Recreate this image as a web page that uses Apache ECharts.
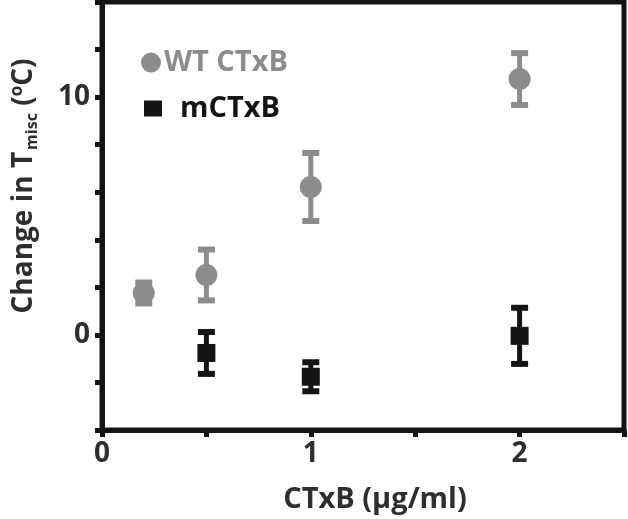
<!DOCTYPE html>
<html>
<head>
<meta charset="utf-8">
<script src="https://cdn.jsdelivr.net/npm/echarts@6/dist/echarts.min.js"></script>
<style>
html,body{margin:0;padding:0;background:#fff;}
#main{width:628px;height:519px;}
</style>
</head>
<body>
<div id="main"></div>
<script>
// Data
var wtX = [0.2, 0.5, 1, 2];
var wtY = [1.76, 2.52, 6.22, 10.76];
var wtErr = [0.44, 1.07, 1.43, 1.09];
var mX = [0.5, 1, 2];
var mY = [-0.76, -1.76, -0.04];
var mErr = [0.88, 0.61, 1.18];
var xLabelsShown = [0, 1, 2];
var yLabelsShown = [0, 10];

var FONT = '"Open Sans"';
var TXT = '#2e2e2e';
var GRAY = '#8c8c8c';
var BLACK = '#141414';

function pts(xs, ys) { return xs.map(function (x, i) { return [x, ys[i]]; }); }
function errData(xs, ys, es) { return xs.map(function (x, i) { return [x, ys[i] - es[i], ys[i] + es[i]]; }); }

function errRender(color) {
  return function (params, api) {
    var x = api.value(0);
    var lo = api.coord([x, api.value(1)]);
    var hi = api.coord([x, api.value(2)]);
    var hw = 8.5;
    var st = { stroke: color, lineWidth: 5 };
    var cs = { stroke: color, lineWidth: 6 };
    return {
      type: 'group',
      children: [
        { type: 'line', shape: { x1: lo[0], y1: lo[1], x2: hi[0], y2: hi[1] }, style: st },
        { type: 'line', shape: { x1: lo[0] - hw, y1: lo[1], x2: lo[0] + hw, y2: lo[1] }, style: cs },
        { type: 'line', shape: { x1: hi[0] - hw, y1: hi[1], x2: hi[0] + hw, y2: hi[1] }, style: cs }
      ]
    };
  };
}

var chart = echarts.init(document.getElementById('main'));
chart.setOption({
  animation: false,
  backgroundColor: '#fff',
  grid: { left: 102, right: 4, top: 2, bottom: 87, show: true, borderColor: BLACK, borderWidth: 5, backgroundColor: 'transparent' },
  legend: [
    {
      data: [{ name: 'WT CTxB', icon: 'circle' }],
      left: 136, top: 43, itemWidth: 20, itemHeight: 20, itemGap: 0,
      textStyle: { color: GRAY, fontFamily: FONT, fontWeight: 'bold', fontSize: 29, padding: [0, 0, 0, -2] },
      selectedMode: false
    },
    {
      data: [{ name: 'mCTxB', icon: 'rect' }],
      left: 139, top: 89, itemWidth: 18, itemHeight: 16, itemGap: 0,
      textStyle: { color: BLACK, fontFamily: FONT, fontWeight: 'bold', fontSize: 29, padding: [0, 0, 0, 13] },
      selectedMode: false
    }
  ],
  xAxis: {
    type: 'value', min: 0, max: 2.5, interval: 0.5,
    splitLine: { show: false },
    axisLine: { onZero: false, lineStyle: { color: BLACK, width: 5 } },
    axisTick: { length: 7, lineStyle: { color: BLACK, width: 5 } },
    axisLabel: {
      margin: 10, color: TXT, fontFamily: FONT, fontWeight: 'bold', fontSize: 28,
      formatter: function (v) { return xLabelsShown.indexOf(v) >= 0 ? String(v) : ''; }
    },
    name: 'CTxB (\u03bcg/ml)', nameLocation: 'middle', nameGap: 55,
    nameTextStyle: { color: TXT, fontFamily: FONT, fontWeight: 'bold', fontSize: 29, padding: [0, 0, 0, 24] }
  },
  yAxis: {
    type: 'value', min: -4, max: 14, interval: 2,
    splitLine: { show: false },
    axisLine: { onZero: false, lineStyle: { color: BLACK, width: 5 } },
    axisTick: { length: 7, lineStyle: { color: BLACK, width: 5 } },
    axisLabel: {
      margin: 12, color: TXT, fontFamily: FONT, fontWeight: 'bold', fontSize: 28,
      formatter: function (v) { return yLabelsShown.indexOf(v) >= 0 ? String(v) : ''; }
    },
    name: 'Change in T{sub|misc} ({sup|o}C)', nameLocation: 'middle', nameRotate: 90, nameGap: 62,
    nameTextStyle: {
      color: TXT, fontFamily: FONT, fontWeight: 'bold', fontSize: 28, padding: [0, 0, 0, 60],
      rich: {
        sub: { color: TXT, fontFamily: FONT, fontWeight: 'bold', fontSize: 16, padding: [16, 0, 0, 2] },
        sup: { color: TXT, fontFamily: FONT, fontWeight: 'bold', fontSize: 17, padding: [0, 0, 14, 0] }
      }
    }
  },
  series: [
    {
      name: 'WT CTxB', type: 'scatter', symbol: 'circle', symbolSize: 22,
      itemStyle: { color: GRAY, opacity: 1 }, data: pts(wtX, wtY), z: 3
    },
    {
      name: 'wtErr', type: 'custom', renderItem: errRender(GRAY),
      data: errData(wtX, wtY, wtErr), z: 2, encode: { x: 0, y: [1, 2] }
    },
    {
      name: 'mCTxB', type: 'scatter', symbol: 'rect', symbolSize: 18,
      itemStyle: { color: BLACK, opacity: 1 }, data: pts(mX, mY), z: 3
    },
    {
      name: 'mErr', type: 'custom', renderItem: errRender(BLACK),
      data: errData(mX, mY, mErr), z: 2, encode: { x: 0, y: [1, 2] }
    }
  ]
});
</script>
</body>
</html>
